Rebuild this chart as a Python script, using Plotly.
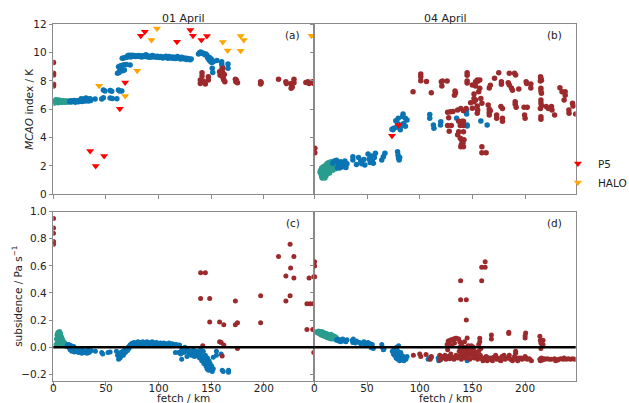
import plotly.graph_objects as go

# ---------------- data: fetch (km) vs value ----------------
# Panel (a): MCAO index, 01 April
a_coast = [(1,6.45),(1.5,6.6),(2,6.52),(2.5,6.68),(3,6.5),(3.5,6.62),(4,6.55),(4.5,6.47),(5,6.65),(5.5,6.55),
           (6,6.5),(6.5,6.62),(7,6.57),(7.5,6.5),(8,6.6),(8.5,6.55),(9,6.52),(9.5,6.6),(10,6.55),(11,6.5),
           (11.5,6.58),(12,6.55),(13,6.52),(13.5,6.58),(14,6.55),(15,6.52)]
a_sea = [(15.5,6.55),(16.5,6.6),(17,6.52),(18,6.58),(19,6.55),(20,6.62),(21,6.5),(22,6.57),(23,6.6),(24,6.53),
         (25,6.58),(26,6.65),(26.5,6.75),(27,6.55),(28,6.6),(29,6.72),(29.5,6.58),(30,6.62),(31,6.8),(31.5,6.6),
         (32,6.68),(33,6.72),(33.5,6.58),(34,6.65),(35,6.75),(35.5,6.62),(39.7,6.72),(46,6.72),
         (47.6,7.36),(47.6,6.81),(49,7.3),(54,7.32),(54,6.8),(55.5,7.28),(56,6.76),(60.4,6.74),(61.9,7.36),
         (63,7.3),(65.1,7.3),
         (61,8.55),(62.5,8.6),(63,8.7),(64.5,8.75),(66,8.72),(67.5,8.78),
         (62,9.0),(63.5,9.05),(65,9.1),(66.5,9.12),(68,9.15),(69.5,9.17),(73,9.12),
         (65.5,9.6),(67,9.62),(68.5,9.65),(70,9.68),
         (70.5,9.72),(71,9.8),(72,9.75),(72.5,9.82),(73.5,9.7),(74,9.78),(75,9.82),(76,9.75),(77,9.8),(78,9.72),
         (79,9.78),(80,9.75),(81,9.8),(82,9.72),(83,9.76),(84,9.7),(85,9.78),(86,9.73),(87,9.75),(88,9.85),
         (88.5,9.72),(89,9.78),(90,9.7),(91,9.75),(92,9.68),(93,9.72),(94,9.8),(95,9.7),(96,9.75),(97,9.72),
         (98,9.68),(99,9.75),(100,9.7),(101,9.65),(102,9.72),(103,9.68),(104,9.62),(105,9.7),(106,9.65),
         (107,9.75),(108,9.68),(109,9.6),(110,9.72),(111,9.65),(112,9.62),(113,9.7),(114,9.6),(115,9.68),
         (116,9.58),(117,9.65),(118,9.72),(119,9.62),(120,9.6),(121,9.55),(122,9.68),(123,9.58),(124,9.62),
         (125,9.55),(126,9.6),(127,9.52),(128,9.58),(129,9.55),(130,9.5),(131,9.55),
         (138,9.9),(139,10.0),(140,10.05),(141,9.95),(142,9.98),(143,9.92),(144,9.85),(145,9.9),(146,9.82),
         (146.5,9.7),(147,9.6),(148,9.5),(148.5,9.65),(149,9.4),(150,9.55),(150.5,9.3),(151,9.45),(152,9.35),
         (151,8.9),(151.5,8.6),(155.5,9.45),(160,9.36),(160,9.2),(160.5,9.0),(160,8.8),(166,9.2),(166,8.89)]
a_late = [(0.2,9.3),(0.2,8.55),(0.2,8.42),(0.2,7.76),(0.2,7.64),
          (139.7,8.07),(139.7,7.83),(141.3,8.58),(141.3,8.35),(142.5,8.0),(144.5,7.79),(147.3,8.07),(147.3,8.3),
          (158,8.65),(158.5,8.4),(159.5,8.54),(160.5,8.35),(161,8.89),(161,8.6),(161.5,8.19),(162,8.07),
          (162.5,8.45),(163,7.95),
          (173,8.12),(173.5,7.95),(174,8.05),(175,7.88),(197,7.95),(197,7.79),(197.5,7.88),(214,8.12),
          (221,7.95),(221.5,7.83),(226,7.83),(226.5,7.65),(226,7.48),(227,7.55),(228.7,8.12),(228.7,7.88),
          (240,7.9),(242,7.95),(243,7.83),(244.5,7.9),(246.5,7.95),(247.5,7.83)]
a_p5 = [(35,3.06),(40.3,2.0),(48.3,2.7),(63.2,6.04),(68.3,7.9),(83.2,11.2),(87,11.48),(117.5,10.77),
        (130.2,11.6),(132.7,11.2),(140.7,10.89),(146,11.17)]
a_halo = [(43.5,7.67),(68.3,6.94),(79.7,8.72),(93.3,10.89),(98.5,11.71),(161,10.75),(165.7,10.15),
          (178,11.17),(181,10.89),(178,10.13),(245.4,11.19)]

# Panel (b): MCAO index, 04 April
b_coast = [(5.5,1.55),(6,1.7),(6.5,1.4),(7,1.25),(7,1.85),(7.5,1.15),(8,1.6),(8.5,1.95),(9,1.35),(9,1.75),
           (9.5,1.5),(10,1.15),(10,2.0),(10.5,1.85),(11,1.6),(11,1.3),(11.5,2.1),(12,1.75),(12.5,1.45),
           (12.5,2.2),(13,1.95),(13.5,1.6),(14,2.25),(14,1.85),(14.5,1.5),(15,2.05),(15.5,1.75),(16,2.3),
           (16.5,1.9),(17,2.1),(17.5,1.7),(18,2.0),(18.5,1.85),(19,2.15),(19.5,1.9),(20,2.0),(20.5,1.8),(21,1.95)]
b_sea = [(17.5,2.2),(19,2.35),(21,2.4),(22,1.9),(23,2.15),(24,1.85),(25,2.3),(26,2.05),(27,1.95),(28,2.2),
         (29,2.35),(30,1.9),(31,2.15),(36.6,2.42),(36.6,2.65),(40,2.1),(42,2.6),(44,2.35),(45,2.15),(47,2.45),
         (48,2.07),(51,2.85),(52,2.5),(53,2.25),(54,2.7),(55,2.4),(56,2.2),(57,2.6),(58,2.9),(64,2.42),
         (65.5,2.65),(67,2.9),(79,3.0),(79.5,2.75),(80,2.55),(80.5,2.42),(81,2.6),
         (73.7,4.59),(74.6,4.55),(75.3,4.66),(77.8,4.73),(80,4.8),(81.6,4.56),(83.2,4.87),(84.2,5.66),
         (86.4,5.36),(88,5.25),(79.6,5.36),(77.3,5.2),(84.8,5.0),(86.4,4.8),(79,5.0),(82.9,4.89),(83.8,5.5),
         (109.5,5.64),(109.5,5.36),(113,4.89),(113.5,4.66),(120,5.12),(119.7,4.9),(135,5.36),(144.5,5.95),
         (144.5,5.66),(145,4.89),(145,4.82),(158,5.17),(164,4.89)]
b_late = [(0.5,3.25),(0.5,2.94),
          (93.7,7.24),(101,8.49),(101,8.3),(101,8.02),(106.4,7.97),(111,7.17),(120.5,7.95),(121,7.64),
          (121.5,8.0),(126,8.0),(133,7.0),(133.5,7.29),(134,7.15),(145,8.58),(145,8.4),(145,8.0),(145,7.85),
          (153,7.95),(153,7.64),(155,7.98),(154.6,8.07),(157,8.07),
          (126.5,5.8),(129,5.82),(131.5,5.85),(127.5,5.4),(126.5,4.85),(130,4.85),(128,4.45),(136,5.95),
          (139,6.05),(141.5,5.9),(144,6.05),
          (137,5.15),(140,5.15),(141.5,5.15),(138.5,4.85),(141.5,4.85),(137,4.42),(141.5,4.42),(136,4.2),
          (138.5,3.95),(140,3.78),(142,3.85),(139,3.35),(141.5,3.35),(139.5,3.5),(141,3.6),
          (149.9,7.71),(151.5,7.08),(151.5,6.77),(151.5,6.53),(148.3,6.46),(153,6.65),(154.6,6.23),(157,7.48),
          (156,7.24),(158,6.77),(159,6.42),(155,5.95),(154.6,5.72),(150,6.07),
          (165,6.3),(166,6.0),(167,5.9),(159,3.36),(159,2.94),(163,2.94),
          (166,7.5),(167,7.7),(171,8.2),(175,8.58),(177.5,7.95),(177.5,7.76),(184,7.88),(185,7.71),(185,8.54),
          (190,8.54),(191,8.42),(187,7.5),(188,7.35),(194,7.43),(201,7.95),(201.5,7.83),(205.4,7.79),
          (205.4,7.5),(214.6,8.3),(215,8.2),(215.5,8.05),(214.5,8.0),(215,7.48),(215,7.3),(215.5,7.13),
          (215,6.65),(215,6.45),(215.5,6.25),(214.5,6.05),(215,5.48),(215,5.3),(220,6.2),(222,6.05),(225,6.2),
          (225.5,5.95),(228,5.6),(233,7.53),(235,7.24),(238,7.24),(238,7.0),(237,6.65),(241.5,5.95),
          (241.7,5.72),(245,6.42),(245.5,6.23),(248,5.66),
          (190.6,6.54),(190.6,6.35),(191.5,6.14),(199,6.14),(202,6.14),(199.5,5.6),(200,5.36),
          (173,5.6),(173,5.36),(177,6.2),(178.5,6.05),(178.5,5.36),(178.5,5.15),(166,5.6),(166,5.8)]
b_p5 = [(73.7,4.14),(80,4.89)]

# Panel (c): subsidence, 01 April
c_coast = [(2.5,0.02),(3,0.06),(3.5,0.09),(4,0.1),(4,0.04),(4.5,0.11),(5,0.08),(5,0.02),(5.5,0.1),(6,0.06),
           (6,0.115),(6.5,0.09),(7,0.05),(7,0.1),(7.5,0.03),(7.5,0.08),(8,0.07),(8,0.04),(8.5,0.06),(9,0.03),
           (9,0.05),(9.5,0.02),(10,0.04),(10.5,0.02),(11,0.03),(11.5,0.01),(12,0.02),(12.5,0.005)]
c_sea = [(13,0.01),(14,0.02),(15,-0.005),(15.5,0.015),(16,-0.02),(17,0.01),(17.5,-0.03),(18,-0.01),(19,-0.02),
         (19.5,0.005),(20,-0.035),(21,-0.015),(22,-0.03),(23,-0.02),(24,-0.04),(25,-0.025),(26,-0.03),
         (27,-0.045),(28,-0.02),(29,-0.035),(30,-0.04),(31,-0.03),(32,-0.045),(33,-0.02),(34,-0.04),(35,-0.03),
         (36,-0.025),(40,-0.03),(46,-0.04),(47,-0.05),(52,-0.04),(54,-0.035),
         (60,-0.03),(61,-0.06),(62,-0.09),(62.5,-0.07),(63,-0.05),(63.5,-0.08),(64,-0.04),(64.5,-0.065),
         (65,-0.05),(66,-0.03),(66.5,-0.06),(67,-0.045),(68,-0.02),(68.5,-0.04),(69,-0.03),(70,-0.01),
         (70.5,-0.025),(71,0.0),(72,-0.01),(72.5,0.01),
         (73,0.015),(74,0.025),(75,0.01),(75.5,0.03),(76,0.02),(77,0.035),(78,0.025),(79,0.03),(80,0.02),
         (80.5,0.04),(81,0.025),(82,0.035),(83,0.03),(84,0.02),(85,0.04),(86,0.03),(87,0.025),(88,0.035),
         (89,0.04),(90,0.03),(91,0.02),(92,0.035),(93,0.03),(94,0.04),(95,0.025),(96,0.03),(97,0.02),
         (98,0.035),(99,0.03),(100,0.025),(101,0.02),(102,0.03),(103,0.025),(104,0.015),(105,0.03),(106,0.02),
         (107,0.01),(108,0.025),(109,0.02),(110,0.03),(111,0.015),(112,0.01),(113,0.025),(115,0.02),
         (116,-0.04),(117,0.02),(119,-0.04),(120,0.015),(121,-0.05),(122,-0.09),
         (122,-0.02),(124,-0.04),(125,0.0),(126,-0.03),(127,-0.07),(128,-0.02),(129,-0.05),(130,-0.03),
         (131,-0.06),(132,-0.04),(133,-0.02),(134,-0.07),(135,-0.05),(136,-0.03),(137,-0.065),(138,-0.04),
         (139,-0.08),(140,-0.02),(140,-0.05),(141,-0.1),(142,-0.07),(142.5,-0.03),(143,-0.12),(144,-0.09),
         (144.5,-0.06),(145,-0.14),(145.5,-0.11),(146,-0.16),(146.5,-0.08),(147,-0.13),(147.5,-0.17),
         (148,-0.1),(148.5,-0.15),(149,-0.12),(150,-0.17),(150.5,-0.14),(151,-0.18),(152,-0.16),(152,-0.075),
         (155,-0.03),(155,-0.06),(159.5,-0.05),(160.5,-0.17),(161.5,-0.18),(166.5,-0.17),(166.5,-0.185)]
c_late = [(0.2,0.95),(0.2,0.88),(0.2,0.84),(0.2,0.78),(0.2,0.76),
          (140,0.55),(144.5,0.55),(140,0.36),(148.6,0.36),(148.6,0.185),(158,0.185),(162,0.165),(158,0.04),
          (159.5,0.035),(162,0.015),(142,0.01),(160.5,-0.065),(173,0.34),(173,0.165),(175,0.18),(175,-0.01),
          (197,0.38),(197,0.18),(214,0.67),(221,0.525),(221,0.34),(225,0.76),(225.5,0.585),(225,0.38),
          (228.6,0.67),(228.6,0.51),(241,0.32),(241,0.13),(243,0.51),(244,0.32),(246.5,0.13),(247,0.32),
          (247.5,0.52),(247.5,-0.04)]

# Panel (d): subsidence, 04 April
d_coast = [(2.5,0.115),(3,0.105),(4,0.12),(4.5,0.1),(5,0.115),(5.5,0.095),(6,0.11),(6.5,0.09),(7,0.115),
           (7.5,0.1),(8,0.085),(8.5,0.11),(9,0.095),(9.5,0.08),(10,0.105),(10.5,0.09),(11,0.075),(11.5,0.1),
           (12,0.085),(12.5,0.07),(13,0.095),(13.5,0.08),(14,0.065),(14.5,0.09),(15,0.075),(15.5,0.06),
           (16,0.095),(16.5,0.08),(17,0.07),(17.5,0.06),(18,0.085),(18.5,0.07),(19,0.08),(20,0.065),(20.5,0.075)]
d_sea = [(21,0.05),(22,0.06),(23,0.045),(24,0.055),(25,0.04),(26,0.05),(27,0.06),(28,0.045),(29,0.05),
         (30,0.04),(31,0.055),(36,0.05),(36.5,0.035),(37,0.06),(38,0.04),(39,0.03),(40,0.045),(43,0.035),
         (44,0.025),(47,0.04),(48,0.02),(49,0.03),(50,0.015),(51,0.035),(52,0.01),(53,0.025),(54,-0.005),
         (55,0.02),(56,-0.01),(64,0.02),(64.5,0.0),(65.5,-0.02),(66,-0.015),
         (74,-0.03),(75,-0.05),(75.5,-0.02),(76,-0.06),(77,-0.04),(77.5,-0.08),(78,0.0),(78,-0.05),(79,-0.09),
         (79.5,-0.03),(80,-0.06),(80,0.01),(81,-0.1),(81,-0.07),(82,-0.04),(82.5,-0.08),(83,-0.06),(84,-0.09),
         (84.5,-0.07),(85,-0.1),(86,-0.08),(87,-0.09),(88,-0.07),
         (108,-0.09),(109,-0.08),(111,-0.075),(117.5,-0.08),(118,-0.1),(120,-0.075),(120,-0.09),
         (145,-0.08),(145,-0.1),(158,-0.075),(164,-0.075)]
d_late = [(0.3,0.63),(0.3,0.6),(0.3,0.52),
          (94,-0.06),(100,-0.05),(101,-0.07),(106,-0.055),(110,-0.09),(111,-0.07),(119,-0.06),(119.5,-0.095),
          (121,-0.07),(122.5,-0.08),(124,-0.06),(125,-0.09),(126,0.02),(126.5,-0.02),(127,0.045),(127,-0.07),
          (128,0.03),(128.5,-0.085),(129,0.05),(129.5,-0.05),(130,0.055),(130.5,0.01),(131,-0.075),(132,0.06),
          (132.5,-0.09),(133,0.03),(134,0.065),(134.5,-0.06),(135,0.065),(136,-0.08),(137,0.06),(137.5,-0.03),
          (138,0.04),(138,0.0),(138.5,-0.06),(139,0.03),(139,-0.02),(139.5,-0.09),(140,0.01),(140,-0.04),
          (140.5,-0.07),(141,0.0),(141.5,-0.03),(142,-0.05),(142.5,0.04),(143,-0.02),(143,-0.08),(144,0.0),
          (144.5,-0.04),(145,0.067),(145,-0.06),(146,0.01),(146.5,-0.02),(147,-0.05),(147.5,-0.09),(148,0.0),
          (148.5,-0.03),(149,0.01),(149.5,-0.06),(150,-0.02),(150.5,-0.04),(151,0.0),(151.5,-0.08),(152,-0.03),
          (153,-0.05),(154,-0.07),(155,-0.09),(156,-0.03),(156,0.02),(157,0.04),(157,0.065),(157.5,-0.06),
          (158,-0.01),(159,-0.085),(160,-0.1),(161,-0.08),(162,-0.09),(163,-0.07),(164,-0.1),(165,-0.085),
          (166,-0.09),(167,-0.08),(168,0.06),(168,0.09),(169,-0.1),(170,-0.075),(172,-0.06),(173,-0.09),
          (174,-0.08),(176,-0.095),(177,-0.1),(178,-0.07),(180,-0.06),(181,-0.09),(183,-0.08),(184.5,0.1),
          (184.5,0.11),(185,-0.06),(186,-0.09),(188,-0.1),(189,-0.085),(190,-0.07),(191,-0.045),(191,-0.03),
          (192,-0.09),(193,-0.1),(194,-0.08),(196,-0.08),(197,-0.09),(198,-0.085),(200,0.067),(200,0.085),
          (200.5,0.104),(200,-0.07),(201,-0.08),(202,-0.09),(204,-0.085),(206,-0.1),(214,0.08),(214.5,0.05),
          (215,0.03),(215,-0.01),(216,0.02),(217,0.05),(217,0.02),(214,-0.09),(214.5,-0.1),(215.5,-0.08),
          (216.5,-0.095),(218,-0.085),(219,-0.09),(221,-0.085),(223,-0.09),(225,-0.09),(228,-0.085),(229,-0.1),
          (231,-0.095),(232,-0.09),(234,-0.085),(236,-0.09),(237,-0.08),(239,-0.09),(241,-0.085),(243,-0.09),
          (245,-0.085),(247,-0.09),
          (138.8,0.49),(138.8,0.35),(144.2,0.35),(144.2,0.2),(158.8,0.49),(158.8,0.59),(162.1,0.59),(162.1,0.63)]

x_ticks = [0, 50, 100, 150, 200]
mcao_ticks = [0, 2, 4, 6, 8, 10, 12]
sub_ticks = [-0.2, 0.0, 0.2, 0.4, 0.6, 0.8, 1.0]
panel_titles = ["01 April", "04 April"]
panel_tags = ["(a)", "(b)", "(c)", "(d)"]

# ---------------- styling ----------------
COAST = "#2a9d8f"
SEA = "#0a74b4"
LATE = "#9c2a2c"
P5 = "#ff0000"
HALO = "#ffa500"
AXIS = "#8a8a8a"
TEXT = "#222222"
FONT = "DejaVu Sans"
W, H = 629, 403


def px_x(a, b):
    return [a / W, b / W]


def px_y(top, bottom):
    return [1 - bottom / H, 1 - top / H]


fig = go.Figure()


def dots(points, color, ax, size=5.5):
    xs, ys = zip(*points)
    fig.add_trace(go.Scatter(x=xs, y=ys, mode="markers", xaxis="x" + ax, yaxis="y" + ax,
                             marker=dict(color=color, size=size, line=dict(width=0)),
                             showlegend=False, hoverinfo="skip"))


def tris(points, color, ax, name, legend):
    xs, ys = zip(*points)
    fig.add_trace(go.Scatter(x=xs, y=ys, mode="markers", xaxis="x" + ax, yaxis="y" + ax, name=name,
                             showlegend=legend,
                             marker=dict(color=color, size=7, symbol="triangle-down", line=dict(width=0))))


dots(a_coast, COAST, "")
dots(a_sea, SEA, "")
dots(a_late, LATE, "")
tris(a_p5, P5, "", "P5", True)
tris(a_halo, HALO, "", "HALO", True)

dots(b_coast, COAST, "2")
dots(b_sea, SEA, "2")
dots(b_late, LATE, "2")
tris(b_p5, P5, "2", "P5", False)

dots(c_coast, COAST, "3", 5)
dots(c_sea, SEA, "3", 5)
dots(c_late, LATE, "3", 5)

dots(d_coast, COAST, "4", 5)
dots(d_sea, SEA, "4", 5)
dots(d_late, LATE, "4", 5)

common_axis = dict(showline=True, mirror=True, linecolor=AXIS, linewidth=1, ticks="outside",
                   ticklen=3.5, tickcolor=AXIS, tickwidth=1, showgrid=False, zeroline=False,
                   automargin=False, tickfont=dict(family=FONT, size=10.5, color=TEXT))

xl = px_x(53.3, 314.3)
xr = px_x(314.3, 575.7)
yt = px_y(24.3, 194.3)
yb = px_y(211.7, 381.0)

xcommon = dict(common_axis, range=[0, 248], tickvals=x_ticks)
title_font = dict(family=FONT, size=10.5, color=TEXT)

fig.update_layout(
    width=W, height=H, margin=dict(l=0, r=0, t=0, b=0, autoexpand=False),
    paper_bgcolor="white", plot_bgcolor="white",
    xaxis=dict(xcommon, domain=xl, anchor="y", showticklabels=False),
    xaxis2=dict(xcommon, domain=xr, anchor="y2", showticklabels=False),
    xaxis3=dict(xcommon, domain=xl, anchor="y3", ticklabelstandoff=-6),
    xaxis4=dict(xcommon, domain=xr, anchor="y4", ticklabelstandoff=-6),
    yaxis=dict(common_axis, domain=yt, anchor="x", range=[0, 12], tickvals=mcao_ticks),
    yaxis2=dict(common_axis, domain=yt, anchor="x2", range=[0, 12], tickvals=mcao_ticks,
                showticklabels=False),
    yaxis3=dict(common_axis, domain=yb, anchor="x3", range=[-0.25, 1.0], tickvals=sub_ticks,
                tickformat=".1f"),
    yaxis4=dict(common_axis, domain=yb, anchor="x4", range=[-0.25, 1.0], tickvals=sub_ticks,
                showticklabels=False),
    legend=dict(x=0.887, y=0.63, xanchor="left", yanchor="top", itemwidth=30,
                font=dict(family=FONT, size=10.5, color=TEXT), tracegroupgap=0,
                bgcolor="rgba(0,0,0,0)"),
    font=dict(family=FONT, size=10.5, color=TEXT),
)

# zero reference line on the subsidence panels
for ax in ["3", "4"]:
    fig.add_shape(type="line", xref=f"x{ax} domain", yref=f"y{ax}", x0=0, x1=1, y0=0, y1=0,
                  line=dict(color="black", width=2.5), layer="above")

# day titles
for ax, t in zip(["", "2"], panel_titles):
    fig.add_annotation(text=t, xref=f"x{ax} domain", yref=f"y{ax} domain", x=0.5, y=1,
                       xanchor="center", yanchor="bottom", yshift=-3, showarrow=False,
                       font=dict(family=FONT, size=11, color=TEXT))

# panel tags
for ax, t in zip(["", "2", "3", "4"], panel_tags):
    fig.add_annotation(text=t, xref=f"x{ax} domain", yref=f"y{ax} domain", x=1, y=1,
                       xanchor="right", yanchor="top", xshift=-12, yshift=-3, showarrow=False,
                       font=dict(family=FONT, size=10.5, color=TEXT))

# x-axis titles
for ax in ["3", "4"]:
    fig.add_annotation(text="fetch / km", xref=f"x{ax} domain", yref="paper", x=0.5, y=0,
                       xanchor="center", yanchor="top", yshift=13, showarrow=False, font=title_font)

# y-axis titles
fig.add_annotation(text="<i>MCAO</i> index / K", xref="paper", yref="y domain", x=29.5 / W, y=0.5,
                   xanchor="center", yanchor="middle", textangle=-90, showarrow=False, font=title_font)
fig.add_annotation(text="subsidence / Pa s<sup>−1</sup>", xref="paper", yref="y3 domain", x=16.5 / W,
                   y=0.5, xanchor="center", yanchor="middle", textangle=-90, showarrow=False,
                   font=title_font)

fig.write_html("out.html")
